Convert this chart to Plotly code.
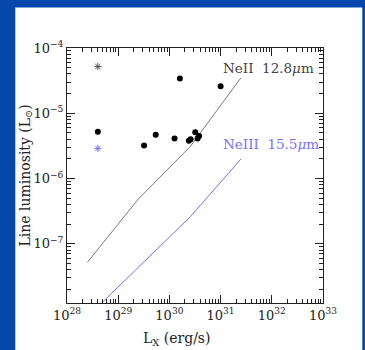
import plotly.graph_objects as go
import numpy as np

# Data
dots_x = [4e28, 3.2e29, 5.4e29, 1.26e30, 1.6e30, 2.4e30, 2.6e30, 3.2e30, 3.55e30, 3.8e30, 1.0e31]
dots_y = [5.2e-6, 3.2e-6, 4.7e-6, 4.1e-6, 3.4e-5, 3.8e-6, 4.0e-6, 5.1e-6, 4.1e-6, 4.5e-6, 2.6e-5]
star_nei_x = [4e28]
star_nei_y = [5.2e-5]
star_neiii_x = [4e28]
star_neiii_y = [2.9e-6]
neii_x = [2.5e28, 2.5e29, 2.56e30, 2.5e31]
neii_y = [5.2e-8, 4.9e-7, 3.1e-6, 3.5e-5]
neiii_x = [2.5e28, 2.5e29, 2.56e30, 2.5e31]
neiii_y = [7.6e-9, 4.4e-8, 2.6e-7, 2.0e-6]

x_major = [28, 29, 30, 31, 32, 33]
x_labels = ["10<sup>%d</sup>" % e for e in x_major]
y_major = [-7, -6, -5, -4]
y_labels = ["10<sup>\u2212%d</sup>" % (-e) for e in y_major]

BLUE_BG = "#0547aa"
NEIII_C = "#7472ff"
NEII_C = "#7a7a7a"
FONT = "DejaVu Serif"
AX_C = "#222222"

fig = go.Figure()
fig.add_trace(go.Scatter(x=neii_x, y=neii_y, mode="lines",
                         line=dict(color=NEII_C, width=1), hoverinfo="skip"))
fig.add_trace(go.Scatter(x=neiii_x, y=neiii_y, mode="lines",
                         line=dict(color=NEIII_C, width=1), hoverinfo="skip"))
fig.add_trace(go.Scatter(x=dots_x, y=dots_y, mode="markers",
                         marker=dict(color="black", size=6, symbol="circle")))
fig.add_trace(go.Scatter(x=star_nei_x, y=star_nei_y, mode="markers",
                         marker=dict(symbol="asterisk-open", size=6, color="#555555",
                                     line=dict(color="#555555", width=1))))
fig.add_trace(go.Scatter(x=star_neiii_x, y=star_neiii_y, mode="markers",
                         marker=dict(symbol="asterisk-open", size=6, color=NEIII_C,
                                     line=dict(color=NEIII_C, width=1))))

x_minor = [m * 10.0 ** e for e in range(28, 33) for m in range(2, 10)]
y_minor = [m * 10.0 ** e for e in range(-8, -4) for m in range(2, 10)]

axis_common = dict(showgrid=False, zeroline=False, showline=True, linecolor=AX_C,
                   linewidth=1, mirror="allticks", ticks="inside", ticklen=8,
                   tickcolor=AX_C, tickwidth=1,
                   tickfont=dict(family=FONT, size=13, color="#222222"))

fig.update_xaxes(type="log", range=[28, 33], tickmode="array",
                 tickvals=[10.0 ** e for e in x_major], ticktext=x_labels,
                 minor=dict(tickmode="array", tickvals=x_minor, ticks="inside",
                            ticklen=4, tickcolor=AX_C, tickwidth=1),
                 **axis_common)
fig.update_yaxes(type="log", range=[float(np.log10(1.24e-8)), -4], tickmode="array",
                 tickvals=[10.0 ** e for e in y_major], ticktext=y_labels,
                 minor=dict(tickmode="array", tickvals=y_minor, ticks="inside",
                            ticklen=4, tickcolor=AX_C, tickwidth=1),
                 **axis_common)

# axis titles as annotations
fig.add_annotation(x=0.43, y=-0.141, xref="paper", yref="paper",
                   xanchor="center", yanchor="middle",
                   text="L<sub>X</sub> (erg/s)", showarrow=False,
                   font=dict(family=FONT, size=14, color="#222222"))
fig.add_annotation(x=-0.164, y=0.5, xref="paper", yref="paper", textangle=-90,
                   xanchor="center", yanchor="middle",
                   text="Line luminosity (L<sub>\u2299</sub>)", showarrow=False,
                   font=dict(family=FONT, size=14, color="#222222"))

fig.add_annotation(x=np.log10(1.0e31), y=np.log10(5.0e-5), xref="x", yref="y",
                   text="NeII  12.8<i>\u03bc</i>m", showarrow=False, xanchor="left",
                   font=dict(family=FONT, size=13.5, color="#444444"))
fig.add_annotation(x=np.log10(1.0e31), y=np.log10(3.4e-6), xref="x", yref="y",
                   text="NeIII  15.5<i>\u03bc</i>m", showarrow=False, xanchor="left",
                   font=dict(family=FONT, size=13.5, color=NEIII_C))

# blue frame strips around the white page
for (x0, x1, y0, y1) in [(-0.3, -0.202, -0.3, 1.3),   # left strip
                         (1.1535, 1.3, -0.3, 1.3),    # right strip
                         (-0.3, 1.3, 1.159, 1.3)]:    # top strip
    fig.add_shape(type="rect", xref="paper", yref="paper",
                  x0=x0, x1=x1, y0=y0, y1=y1,
                  fillcolor=BLUE_BG, line=dict(width=0), layer="below")

fig.update_layout(width=365, height=350, showlegend=False,
                  paper_bgcolor="white", plot_bgcolor="white",
                  margin=dict(l=67, r=42, t=48, b=47))

fig.write_html("out.html", config={"displayModeBar": False},
               post_script="document.body.style.margin='0';document.body.style.overflow='hidden';")
